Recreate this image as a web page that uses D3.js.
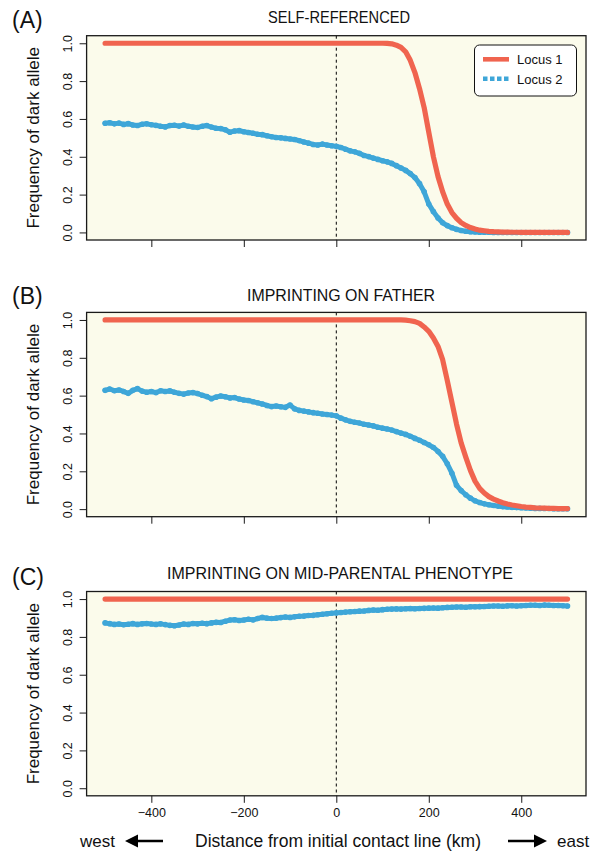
<!DOCTYPE html>
<html>
<head lang="en">
    <meta charset="UTF-8">
    <title>Dark allele clines</title>
    <script type="text/javascript" src="https://cdn.jsdelivr.net/npm/d3@7/dist/d3.min.js"></script>
    <style>
        body { margin: 0; background: #fff; }
        text { font-family: "Liberation Sans", Arial, sans-serif; fill: #111; }
    </style>
</head>
<body>
<div class="holder"></div>

<script>
    // distance from initial contact line (km), one sample every 10 km
    var km = d3.range(-500, 501, 10);

    var yTicks = [0, 0.2, 0.4, 0.6, 0.8, 1.0];
    var xTicks = [-400, -200, 0, 200, 400];
    var legendLabels = ["Locus 1", "Locus 2"];
    var panelLetters = ["(A)", "(B)", "(C)"];
    var panelTitles = ["SELF-REFERENCED", "IMPRINTING ON FATHER", "IMPRINTING ON MID-PARENTAL PHENOTYPE"];

    // (A) self-referenced
    var selfLocus1 = [
        1, 1, 1, 1, 1, 1, 1, 1, 1, 1, 1, 1, 1, 1, 1, 1, 1, 1, 1, 1,
        1, 1, 1, 1, 1, 1, 1, 1, 1, 1, 1, 1, 1, 1, 1, 1, 1, 1, 1, 1,
        1, 1, 1, 1, 1, 1, 1, 1, 1, 1, 1, 1, 1, 1, 1, 1, 1, 1, 1, 1, 1,
        0.999, 0.997, 0.990, 0.978, 0.955, 0.910, 0.845, 0.760, 0.660, 0.530,
        0.400, 0.295, 0.215, 0.150, 0.105, 0.075, 0.052, 0.037, 0.026, 0.018,
        0.012, 0.009, 0.006, 0.004, 0.003, 0.002, 0.002, 0.001, 0.001,
        0, 0, 0, 0, 0, 0, 0, 0, 0, 0, 0
    ];
    var selfLocus2 = [
        0.577, 0.580, 0.574, 0.578, 0.571, 0.575, 0.568, 0.565, 0.572, 0.574,
        0.569, 0.566, 0.561, 0.558, 0.565, 0.567, 0.562, 0.568, 0.561, 0.557,
        0.555, 0.561, 0.565, 0.557, 0.551, 0.549, 0.543, 0.530, 0.536, 0.538,
        0.532, 0.528, 0.524, 0.519, 0.517, 0.511, 0.506, 0.502, 0.500, 0.497,
        0.494, 0.491, 0.485, 0.478, 0.472, 0.465, 0.462, 0.467, 0.462, 0.458,
        0.455, 0.449, 0.440, 0.431, 0.426, 0.418, 0.407, 0.401, 0.393, 0.386,
        0.379, 0.373, 0.365, 0.353, 0.341, 0.328, 0.311, 0.290, 0.258, 0.215,
        0.150, 0.110, 0.076, 0.051, 0.036, 0.025, 0.016, 0.010, 0.006, 0.004,
        0.002, 0.001, 0.001, 0.001, 0, 0, 0, 0, 0, 0,
        0, 0, 0, 0, 0, 0, 0, 0, 0, 0, 0
    ];

    // (B) imprinting on father
    var fatherLocus1 = [
        1, 1, 1, 1, 1, 1, 1, 1, 1, 1, 1, 1, 1, 1, 1, 1, 1, 1, 1, 1,
        1, 1, 1, 1, 1, 1, 1, 1, 1, 1, 1, 1, 1, 1, 1, 1, 1, 1, 1, 1,
        1, 1, 1, 1, 1, 1, 1, 1, 1, 1, 1, 1, 1, 1, 1, 1, 1, 1, 1, 1,
        1, 1, 1, 1, 1,
        0.999, 0.996, 0.991, 0.982, 0.963, 0.940, 0.905, 0.860, 0.790, 0.680,
        0.565, 0.450, 0.350, 0.275, 0.205, 0.148, 0.110, 0.085, 0.066, 0.053,
        0.043, 0.034, 0.027, 0.022, 0.018, 0.014, 0.011, 0.009, 0.007, 0.006,
        0.005, 0.004, 0.004, 0.003, 0.003, 0.003
    ];
    var fatherLocus2 = [
        0.628, 0.635, 0.626, 0.630, 0.622, 0.612, 0.628, 0.637, 0.624, 0.618,
        0.622, 0.616, 0.626, 0.622, 0.625, 0.618, 0.612, 0.608, 0.614, 0.616,
        0.611, 0.602, 0.595, 0.584, 0.592, 0.598, 0.594, 0.588, 0.590, 0.582,
        0.577, 0.574, 0.568, 0.562, 0.556, 0.548, 0.542, 0.545, 0.541, 0.538,
        0.550, 0.530, 0.522, 0.518, 0.514, 0.510, 0.507, 0.503, 0.500, 0.497,
        0.493, 0.481, 0.472, 0.464, 0.459, 0.455, 0.449, 0.445, 0.440, 0.433,
        0.428, 0.424, 0.418, 0.410, 0.402, 0.395, 0.385, 0.374, 0.364, 0.352,
        0.340, 0.326, 0.305, 0.279, 0.240, 0.190, 0.126, 0.098, 0.076, 0.058,
        0.044, 0.035, 0.028, 0.023, 0.019, 0.016, 0.013, 0.011, 0.009, 0.008,
        0.007, 0.006, 0.005, 0.004, 0.004, 0.003, 0.003, 0.002, 0.002, 0.002, 0.002
    ];

    // (C) imprinting on mid-parental phenotype
    var midLocus1 = [
        1, 1, 1, 1, 1, 1, 1, 1, 1, 1, 1, 1, 1, 1, 1, 1, 1, 1, 1, 1,
        1, 1, 1, 1, 1, 1, 1, 1, 1, 1, 1, 1, 1, 1, 1, 1, 1, 1, 1, 1,
        1, 1, 1, 1, 1, 1, 1, 1, 1, 1, 1, 1, 1, 1, 1, 1, 1, 1, 1, 1,
        1, 1, 1, 1, 1, 1, 1, 1, 1, 1, 1, 1, 1, 1, 1, 1, 1, 1, 1, 1,
        1, 1, 1, 1, 1, 1, 1, 1, 1, 1, 1, 1, 1, 1, 1, 1, 1, 1, 1, 1, 1
    ];
    var midLocus2 = [
        0.874, 0.870, 0.866, 0.868, 0.864, 0.867, 0.870, 0.866, 0.869, 0.871,
        0.868, 0.866, 0.869, 0.865, 0.861, 0.859, 0.863, 0.868, 0.866, 0.871,
        0.869, 0.872, 0.870, 0.874, 0.877, 0.876, 0.883, 0.889, 0.891, 0.887,
        0.889, 0.893, 0.890, 0.897, 0.903, 0.899, 0.897, 0.899, 0.902, 0.905,
        0.903, 0.906, 0.909, 0.910, 0.913, 0.914, 0.917, 0.920, 0.922, 0.925,
        0.927, 0.929, 0.931, 0.933, 0.934, 0.936, 0.937, 0.940, 0.942, 0.941,
        0.944, 0.946, 0.947, 0.948, 0.947, 0.949, 0.950, 0.949, 0.950, 0.951,
        0.952, 0.953, 0.952, 0.954, 0.956, 0.957, 0.958, 0.958, 0.957, 0.959,
        0.959, 0.960, 0.961, 0.962, 0.963, 0.963, 0.962, 0.964, 0.965, 0.963,
        0.965, 0.966, 0.967, 0.967, 0.966, 0.968, 0.967, 0.966, 0.966, 0.965, 0.963
    ];

    var locus1 = [selfLocus1, fatherLocus1, midLocus1];
    var locus2 = [selfLocus2, fatherLocus2, midLocus2];

    var red = "#f0644f", blue = "#3ea6d8", bg = "#fbfbeb";
    var panelTop = [35.7, 312.4, 591.5];
    var panelH = 204.3;

    var svg = d3.select(".holder")
            .append("svg")
            .attr("width", 590)
            .attr("height", 853);

    var x = d3.scaleLinear().domain([-540, 540]).range([86.6, 586]);

    var line = d3.line()
            .x(function(d) { return x(d[0]); })
            .y(function(d) { return d[1]; });

    panelTop.forEach(function(top, p) {
        var y = d3.scaleLinear().domain([-0.04, 1.04]).range([top + panelH, top]);
        var g = svg.append("g");

        g.append("rect")
                .attr("x", x.range()[0]).attr("y", top)
                .attr("width", x.range()[1] - x.range()[0]).attr("height", panelH)
                .attr("fill", bg);

        // contact line
        g.append("line")
                .attr("x1", x(0)).attr("x2", x(0))
                .attr("y1", top).attr("y2", top + panelH)
                .attr("stroke", "#000").attr("stroke-width", 1)
                .attr("stroke-dasharray", "3,3");

        function pts(vals) {
            return km.map(function(k, i) { return [k, y(vals[i])]; });
        }

        var b = pts(locus2[p]);
        g.append("path").attr("d", line(b))
                .attr("fill", "none").attr("stroke", blue)
                .attr("stroke-width", 5)
                .attr("stroke-linejoin", "round").attr("stroke-linecap", "round");
        g.selectAll("circle.b")
                .data(b)
                .enter()
                .append("circle")
                .attr("cx", function(d) { return x(d[0]); })
                .attr("cy", function(d) { return d[1]; })
                .attr("r", 2.8)
                .attr("fill", blue);

        g.append("path").attr("d", line(pts(locus1[p])))
                .attr("fill", "none").attr("stroke", red)
                .attr("stroke-width", 5.2)
                .attr("stroke-linejoin", "round").attr("stroke-linecap", "round");

        // box
        g.append("rect")
                .attr("x", x.range()[0]).attr("y", top)
                .attr("width", x.range()[1] - x.range()[0]).attr("height", panelH)
                .attr("fill", "none").attr("stroke", "#1a1a1a").attr("stroke-width", 1.3);

        var ya = g.append("g")
                .attr("transform", "translate(" + x.range()[0] + ",0)")
                .call(d3.axisLeft(y).tickValues(yTicks).tickSize(7).tickFormat(d3.format(".1f")));
        ya.select(".domain").remove();
        ya.selectAll("line").attr("stroke", "#1a1a1a");
        ya.selectAll("text")
                .attr("x", null).attr("dy", null)
                .attr("transform", "translate(-15,0) rotate(-90)")
                .attr("text-anchor", "middle")
                .style("font-family", "Liberation Sans, Arial, sans-serif")
                .style("font-size", "12.5px").attr("fill", "#111");

        var xa = g.append("g")
                .attr("transform", "translate(0," + (top + panelH) + ")")
                .call(d3.axisBottom(x).tickValues(xTicks).tickSize(7).tickPadding(5));
        xa.select(".domain").remove();
        xa.selectAll("line").attr("stroke", "#1a1a1a");
        xa.selectAll("text")
                .style("font-family", "Liberation Sans, Arial, sans-serif")
                .style("font-size", "12.5px").attr("fill", "#111")
                .style("display", p === 2 ? null : "none");

        g.append("text")
                .attr("transform", "translate(39," + (top + panelH / 2) + ") rotate(-90)")
                .attr("text-anchor", "middle")
                .style("font-size", "17px")
                .text("Frequency of dark allele");

        g.append("text")
                .attr("x", 12).attr("y", [27.5, 304, 584.5][p])
                .style("font-size", "23px")
                .text(panelLetters[p]);

        g.append("text")
                .attr("x", [268, 247, 167][p]).attr("y", [23.3, 300.7, 579][p])
                .attr("textLength", [142, 188, 346][p])
                .attr("lengthAdjust", "spacingAndGlyphs")
                .style("font-size", "17px")
                .text(panelTitles[p]);
    });

    // legend (panel A)
    var lg = svg.append("g");
    lg.append("rect")
            .attr("x", 474.5).attr("y", 45).attr("width", 102).attr("height", 51)
            .attr("rx", 5).attr("fill", "#fff").attr("stroke", "#111").attr("stroke-width", 1);
    lg.selectAll("line.key")
            .data(legendLabels)
            .enter()
            .append("line")
            .attr("x1", 483).attr("x2", 509)
            .attr("y1", function(d, i) { return 59.3 + i * 19.5; })
            .attr("y2", function(d, i) { return 59.3 + i * 19.5; })
            .attr("stroke", function(d, i) { return i ? blue : red; })
            .attr("stroke-width", 4.6)
            .attr("stroke-dasharray", function(d, i) { return i ? "4.5,2.5" : null; });
    lg.selectAll("text.key")
            .data(legendLabels)
            .enter()
            .append("text")
            .attr("x", 517)
            .attr("y", function(d, i) { return 64.3 + i * 19.5; })
            .style("font-size", "13px")
            .text(function(d) { return d; });

    // bottom axis title with compass arrows
    var foot = svg.append("g");
    foot.append("text")
            .attr("x", 338).attr("y", 847)
            .attr("text-anchor", "middle")
            .style("font-size", "17.5px")
            .text("Distance from initial contact line (km)");
    foot.append("text").attr("x", 80).attr("y", 847).style("font-size", "17px").text("west");
    foot.append("text").attr("x", 557).attr("y", 847).style("font-size", "17px").text("east");

    [[163, 125], [508, 547]].forEach(function(a) {
        var dir = a[1] > a[0] ? 1 : -1;
        var base = a[1] - dir * 13;
        foot.append("line")
                .attr("x1", a[0]).attr("x2", base).attr("y1", 841).attr("y2", 841)
                .attr("stroke", "#000").attr("stroke-width", 2.5);
        foot.append("path")
                .attr("d", "M" + a[1] + ",841L" + base + ",834.5L" + base + ",847.5Z")
                .attr("fill", "#000");
    });
</script>
</body>
</html>
